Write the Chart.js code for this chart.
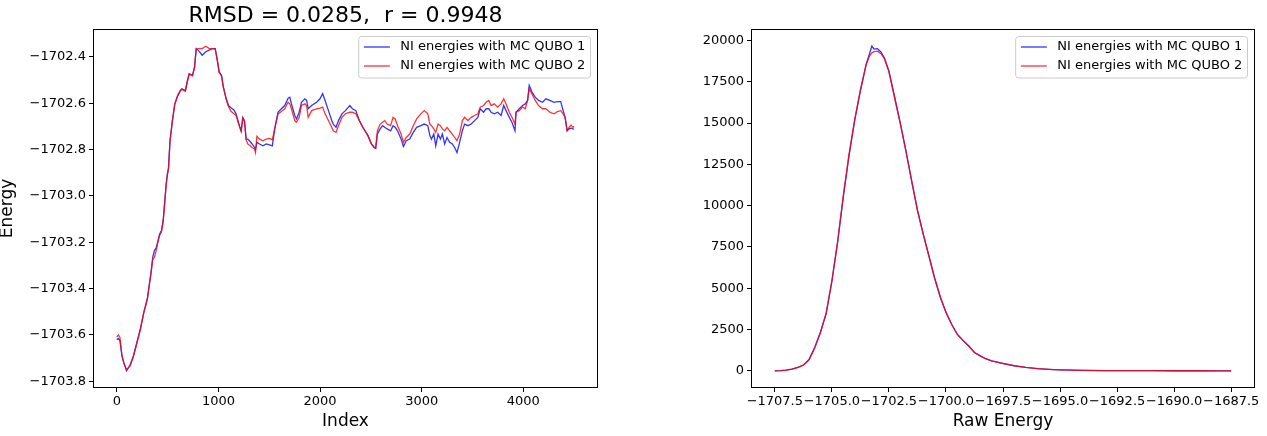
<!DOCTYPE html>
<html>
<head>
<meta charset="utf-8">
<script src="https://cdn.jsdelivr.net/npm/chart.js@4.4.0/dist/chart.umd.min.js"></script>
<style>
  body { margin: 0; background: #fff; }
  #wrap { position: relative; width: 1267px; height: 436px; overflow: hidden; }
  .box { position: absolute; top: 0; height: 436px; }
</style>
</head>
<body>
<div id="wrap">
  <div class="box" style="left:0;width:640px"><canvas id="chartLine" width="640" height="436"></canvas></div>
  <div class="box" style="left:640px;width:627px"><canvas id="chartHist" width="627" height="436"></canvas></div>
</div>
<script>
// DATA

const labels = ['NI energies with MC QUBO 1', 'NI energies with MC QUBO 2']

const index = [
  0, 15, 30, 50, 68, 95, 130, 164, 198, 233,
  267, 284, 301, 318, 336, 353, 370, 387, 404, 421,
  439, 456, 470, 485, 497, 508, 523, 546, 570, 598,
  626, 640, 674, 695, 712, 744, 764, 781, 806, 840,
  875, 909, 944, 968, 989, 1007, 1030, 1048, 1076, 1099,
  1123, 1152, 1173, 1206, 1223, 1239, 1256, 1272, 1289, 1305,
  1331, 1355, 1364, 1378, 1404, 1437, 1470, 1503, 1530, 1553,
  1586, 1619, 1652, 1685, 1702, 1718, 1751, 1768, 1794, 1817,
  1850, 1867, 1883, 1916, 1966, 1999, 2025, 2049, 2082, 2115,
  2129, 2157, 2181, 2215, 2249, 2293, 2318, 2352, 2386, 2420,
  2471, 2505, 2533, 2547, 2564, 2591, 2615, 2636, 2660, 2694,
  2718, 2739, 2762, 2797, 2820, 2848, 2882, 2917, 2950, 2991,
  3025, 3060, 3080, 3096, 3119, 3138, 3161, 3184, 3203, 3226,
  3249, 3275, 3301, 3324, 3347, 3373, 3400, 3422, 3455, 3487,
  3520, 3552, 3576, 3608, 3634, 3660, 3683, 3715, 3748, 3781,
  3807, 3830, 3862, 3888, 3918, 3928, 3960, 3993, 4019, 4042,
  4058, 4085, 4117, 4150, 4189, 4222, 4261, 4303, 4335, 4368,
  4392, 4411, 4431, 4450, 4469, 4488, 4500
]

const qubo1 = [
  -1703.620, -1703.615, -1703.625, -1703.690, -1703.720, -1703.755, -1703.730, -1703.690, -1703.630, -1703.570,
  -1703.500, -1703.470, -1703.440, -1703.385, -1703.330, -1703.265, -1703.235, -1703.225, -1703.195, -1703.165,
  -1703.150, -1703.105, -1703.030, -1702.950, -1702.905, -1702.880, -1702.762, -1702.675, -1702.603, -1702.567,
  -1702.545, -1702.538, -1702.545, -1702.501, -1702.473, -1702.480, -1702.444, -1702.364, -1702.374, -1702.393,
  -1702.378, -1702.371, -1702.364, -1702.364, -1702.415, -1702.465, -1702.480, -1702.530, -1702.581, -1702.610,
  -1702.620, -1702.629, -1702.646, -1702.697, -1702.719, -1702.661, -1702.675, -1702.755, -1702.755, -1702.762,
  -1702.776, -1702.791, -1702.800, -1702.769, -1702.776, -1702.784, -1702.776, -1702.780, -1702.784, -1702.711,
  -1702.639, -1702.624, -1702.610, -1702.578, -1702.574, -1702.603, -1702.653, -1702.668, -1702.639, -1702.596,
  -1702.581, -1702.588, -1702.624, -1702.610, -1702.596, -1702.581, -1702.559, -1702.588, -1702.632, -1702.675,
  -1702.690, -1702.704, -1702.675, -1702.646, -1702.632, -1702.610, -1702.624, -1702.632, -1702.675, -1702.704,
  -1702.740, -1702.776, -1702.791, -1702.795, -1702.733, -1702.711, -1702.697, -1702.704, -1702.711, -1702.719,
  -1702.697, -1702.704, -1702.719, -1702.755, -1702.787, -1702.762, -1702.755, -1702.726, -1702.704, -1702.697,
  -1702.690, -1702.697, -1702.740, -1702.755, -1702.733, -1702.784, -1702.733, -1702.755, -1702.733, -1702.776,
  -1702.748, -1702.769, -1702.776, -1702.791, -1702.813, -1702.769, -1702.719, -1702.690, -1702.697, -1702.690,
  -1702.675, -1702.661, -1702.624, -1702.639, -1702.624, -1702.624, -1702.639, -1702.646, -1702.639, -1702.653,
  -1702.610, -1702.632, -1702.661, -1702.682, -1702.719, -1702.639, -1702.624, -1702.610, -1702.603, -1702.588,
  -1702.523, -1702.552, -1702.574, -1702.588, -1702.596, -1702.581, -1702.588, -1702.596, -1702.593, -1702.593,
  -1702.632, -1702.661, -1702.719, -1702.711, -1702.708, -1702.711, -1702.712
]

const qubo2 = [
  -1703.610, -1703.600, -1703.610, -1703.690, -1703.720, -1703.750, -1703.735, -1703.690, -1703.635, -1703.575,
  -1703.500, -1703.475, -1703.445, -1703.390, -1703.335, -1703.275, -1703.265, -1703.235, -1703.200, -1703.170,
  -1703.155, -1703.110, -1703.035, -1702.955, -1702.910, -1702.885, -1702.765, -1702.680, -1702.605, -1702.570,
  -1702.545, -1702.540, -1702.548, -1702.505, -1702.475, -1702.482, -1702.446, -1702.366, -1702.364, -1702.364,
  -1702.354, -1702.364, -1702.364, -1702.366, -1702.417, -1702.467, -1702.482, -1702.532, -1702.583, -1702.615,
  -1702.635, -1702.646, -1702.653, -1702.700, -1702.722, -1702.668, -1702.678, -1702.758, -1702.776, -1702.780,
  -1702.791, -1702.798, -1702.813, -1702.743, -1702.755, -1702.762, -1702.755, -1702.752, -1702.758, -1702.711,
  -1702.646, -1702.636, -1702.624, -1702.596, -1702.603, -1702.624, -1702.675, -1702.682, -1702.661, -1702.610,
  -1702.603, -1702.610, -1702.661, -1702.632, -1702.624, -1702.621, -1702.617, -1702.646, -1702.675, -1702.704,
  -1702.719, -1702.726, -1702.697, -1702.661, -1702.646, -1702.639, -1702.639, -1702.646, -1702.675, -1702.704,
  -1702.740, -1702.776, -1702.791, -1702.795, -1702.719, -1702.690, -1702.682, -1702.675, -1702.690, -1702.697,
  -1702.661, -1702.668, -1702.697, -1702.733, -1702.769, -1702.748, -1702.733, -1702.697, -1702.668, -1702.646,
  -1702.632, -1702.646, -1702.690, -1702.697, -1702.711, -1702.726, -1702.690, -1702.697, -1702.711, -1702.719,
  -1702.704, -1702.719, -1702.733, -1702.748, -1702.762, -1702.733, -1702.675, -1702.661, -1702.675, -1702.661,
  -1702.653, -1702.646, -1702.617, -1702.610, -1702.596, -1702.588, -1702.610, -1702.603, -1702.617, -1702.603,
  -1702.581, -1702.603, -1702.639, -1702.661, -1702.690, -1702.639, -1702.632, -1702.617, -1702.624, -1702.588,
  -1702.538, -1702.559, -1702.588, -1702.610, -1702.624, -1702.624, -1702.639, -1702.646, -1702.636, -1702.632,
  -1702.646, -1702.661, -1702.719, -1702.704, -1702.694, -1702.704, -1702.700
]

const rawEnergy = [
  -1707.5, -1707.25, -1707, -1706.75, -1706.5, -1706.25, -1706, -1705.75, -1705.5, -1705.25,
  -1705, -1704.75, -1704.5, -1704.25, -1704, -1703.75, -1703.5, -1703.35, -1703.25, -1703.15,
  -1703, -1702.85, -1702.7, -1702.5, -1702.25, -1702, -1701.75, -1701.5, -1701.25, -1701,
  -1700.75, -1700.5, -1700.25, -1700, -1699.75, -1699.5, -1699.25, -1699, -1698.75, -1698.5,
  -1698.25, -1698, -1697.5, -1697, -1696.5, -1696, -1695.5, -1695, -1694, -1693,
  -1692, -1691, -1690, -1689, -1688, -1687.5
]

const count1 = [
  0, 10, 45, 105, 200, 350, 680, 1420, 2350, 3450,
  5400, 7750, 10500, 13000, 15150, 16950, 18550, 19200, 19650, 19480,
  19500, 19300, 18950, 18150, 16600, 15000, 13300, 11450, 9750, 8300,
  6980, 5650, 4450, 3550, 2820, 2200, 1840, 1500, 1110, 900,
  730, 600, 445, 305, 200, 130, 90, 60, 30, 15,
  8, 4, 2, 1, 0, 0
]

const count2 = [
  0, 10, 40, 100, 190, 340, 660, 1380, 2300, 3500,
  5450, 7800, 10600, 13100, 15200, 17000, 18500, 19050, 19250, 19320,
  19350, 19200, 18900, 18100, 16500, 14950, 13250, 11500, 9700, 8280,
  6950, 5600, 4500, 3530, 2800, 2200, 1830, 1500, 1100, 900,
  720, 600, 440, 300, 200, 130, 90, 60, 30, 15,
  8, 4, 2, 1, 0, 0
]

const indexTicks = [0, 1000, 2000, 3000, 4000]
const energyTicks = [-1703.8, -1703.6, -1703.4, -1703.2, -1703.0, -1702.8, -1702.6, -1702.4]
const rawTicks = [-1707.5, -1705, -1702.5, -1700, -1697.5, -1695, -1692.5, -1690, -1687.5]
const countTicks = [0, 2500, 5000, 7500, 10000, 12500, 15000, 17500, 20000]

const BLUE = 'rgba(0, 0, 255, 0.8)'
const RED = 'rgba(255, 0, 0, 0.8)'

Chart.defaults.font.family = '"DejaVu Sans", sans-serif'
Chart.defaults.font.size = 13
Chart.defaults.color = '#000'

// matplotlib style: real minus sign, one decimal
const oneDecimal = v => (v < 0 ? '\u2212' : '') + Math.abs(v).toFixed(1)

// frame round the plot area + matplotlib-like legend box
const frame = {
  id: 'frame',
  afterDatasetsDraw(chart) {
    const { ctx, chartArea: a } = chart
    ctx.save()
    ctx.strokeStyle = '#000'
    ctx.lineWidth = 1
    ctx.strokeRect(a.left - 0.5, a.top - 0.5, a.right - a.left + 1, a.bottom - a.top + 1)

    const fs = 13
    ctx.font = fs + 'px "DejaVu Sans"'
    const sets = chart.data.datasets
    const textW = Math.max(...sets.map(d => ctx.measureText(d.label).width))
    const w = 0.4 * fs + 2 * fs + 0.8 * fs + textW + 0.4 * fs
    const h = 41.5
    const x = a.right - 0.5 * fs - w
    const y = a.top + 0.5 * fs
    ctx.beginPath()
    ctx.roundRect(x, y, w, h, 3)
    ctx.fillStyle = 'rgba(255,255,255,0.8)'
    ctx.fill()
    ctx.strokeStyle = '#cccccc'
    ctx.stroke()
    sets.forEach((d, i) => {
      const cy = y + 10.5 + i * 19
      ctx.beginPath()
      ctx.moveTo(x + 0.4 * fs, cy)
      ctx.lineTo(x + 2.4 * fs, cy)
      ctx.strokeStyle = d.borderColor
      ctx.lineWidth = 1.3
      ctx.stroke()
      ctx.fillStyle = '#000'
      ctx.textBaseline = 'middle'
      ctx.fillText(d.label, x + 3.2 * fs, cy)
    })
    ctx.restore()
  }
}

function axisTicks(list) {
  return scale => { scale.ticks = list.map(v => ({ value: v })) }
}

const tickGrid = { display: true, drawOnChartArea: false, drawTicks: true, tickLength: 5, color: '#000' }

// LEFT: energies along index
const ctxLine = document.getElementById('chartLine')
const chartLine = new Chart(ctxLine, {
  type: 'line',
  data: {
    datasets: [
      { label: labels[0], data: index.map((x, i) => ({ x, y: qubo1[i] })), borderColor: BLUE, borderWidth: 1.3, pointRadius: 0, order: 1 },
      { label: labels[1], data: index.map((x, i) => ({ x, y: qubo2[i] })), borderColor: RED, borderWidth: 1.3, pointRadius: 0, order: 0 }
    ]
  },
  options: {
    responsive: false,
    animation: false,
    layout: { padding: { left: 0, right: 43, top: 0, bottom: 0 } },
    plugins: {
      legend: { display: false },
      tooltip: { enabled: false },
      title: {
        display: true,
        fullSize: false,
        text: 'RMSD = 0.0285,  r = 0.9948',
        font: { size: 22, weight: 'normal' },
        padding: { top: 3, bottom: 0.6 }
      }
    },
    scales: {
      x: {
        type: 'linear',
        min: -225,
        max: 4725,
        afterBuildTicks: axisTicks(indexTicks),
        afterFit: s => { s.height = 49 },
        grid: tickGrid,
        border: { display: false },
        ticks: { padding: 2, maxRotation: 0, autoSkip: false, callback: v => String(v) },
        title: { display: true, text: 'Index', font: { size: 17 }, padding: { top: 0, bottom: 3.8 } }
      },
      y: {
        min: -1703.825,
        max: -1702.284,
        afterBuildTicks: axisTicks(energyTicks),
        afterFit: s => { s.width = 94 },
        grid: tickGrid,
        border: { display: false },
        ticks: { padding: 3, callback: oneDecimal },
        title: { display: true, text: 'Energy', font: { size: 17 }, padding: { top: -3, bottom: 0 } }
      }
    }
  },
  plugins: [frame]
})

// RIGHT: raw energy distribution
const ctxHist = document.getElementById('chartHist')
const chartHist = new Chart(ctxHist, {
  type: 'line',
  data: {
    datasets: [
      { label: labels[0], data: rawEnergy.map((x, i) => ({ x, y: count1[i] })), borderColor: BLUE, borderWidth: 1.3, pointRadius: 0, order: 1 },
      { label: labels[1], data: rawEnergy.map((x, i) => ({ x, y: count2[i] })), borderColor: RED, borderWidth: 1.3, pointRadius: 0, order: 0 }
    ]
  },
  options: {
    responsive: false,
    animation: false,
    layout: { padding: { left: 0, right: 13, top: 30, bottom: 0 } },
    plugins: {
      legend: { display: false },
      tooltip: { enabled: false }
    },
    scales: {
      x: {
        type: 'linear',
        min: -1708.5,
        max: -1686.5,
        afterBuildTicks: axisTicks(rawTicks),
        afterFit: s => { s.height = 49 },
        grid: tickGrid,
        border: { display: false },
        ticks: { padding: 2, maxRotation: 0, minRotation: 0, autoSkip: false, callback: oneDecimal },
        title: { display: true, text: 'Raw Energy', font: { size: 17 }, padding: { top: 0, bottom: 3.8 } }
      },
      y: {
        min: -982,
        max: 20632,
        afterBuildTicks: axisTicks(countTicks),
        afterFit: s => { s.width = 112 },
        grid: tickGrid,
        border: { display: false },
        ticks: { padding: 3, callback: v => String(v) }
      }
    }
  },
  plugins: [frame]
})
</script>
</body>
</html>
